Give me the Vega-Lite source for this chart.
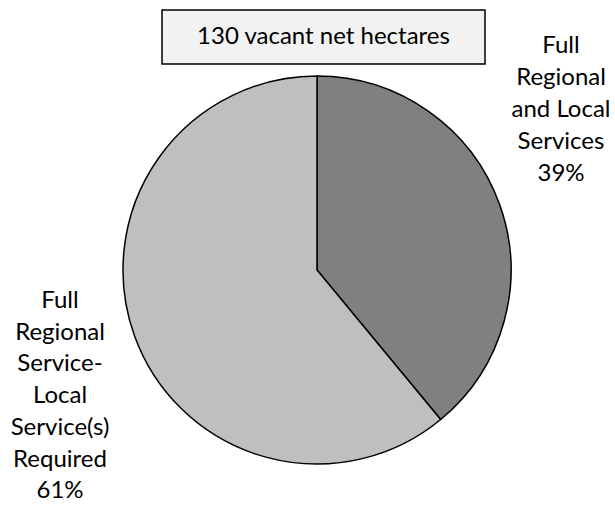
{
  "$schema": "https://vega.github.io/schema/vega-lite/v6.json",
  "autosize": {"type": "pad"},
  "padding": {"left": 10, "top": 9, "right": 0, "bottom": 0},
  "background": "white",
  "config": {"font": "Lato", "text": {"font": "Lato"}},
  "bounds": "flush",
  "spacing": 0,
  "vconcat": [
    {
      "width": 323,
      "height": 54,
      "view": {"fill": "#f2f2f2", "stroke": "#000000", "strokeWidth": 1.5},
      "data": {"values": [{"title": "130 vacant net hectares"}]},
      "mark": {"type": "text", "fontSize": 24, "color": "#000000", "baseline": "middle", "align": "center"},
      "encoding": {"text": {"field": "title", "type": "nominal"}}
    },
    {
      "width": 310,
      "height": 412,
      "view": {"stroke": null},
      "data": {
        "values": [
          {"category": "Full Regional and Local Services", "value": 39, "label": "Full\nRegional\nand Local\nServices\n39%"},
          {"category": "Full Regional Service-Local Service(s) Required", "value": 61, "label": "Full\nRegional\nService-\nLocal\nService(s)\nRequired\n61%"}
        ]
      },
      "layer": [
        {
          "mark": {"type": "arc", "radius": 194, "stroke": "#000000", "strokeWidth": 1.5},
          "encoding": {
            "theta": {"field": "value", "type": "quantitative", "stack": true},
            "order": {"field": "value", "type": "quantitative", "sort": "ascending"},
            "color": {
              "field": "category",
              "type": "nominal",
              "scale": {
                "domain": ["Full Regional and Local Services", "Full Regional Service-Local Service(s) Required"],
                "range": ["#808080", "#bfbfbf"]
              },
              "legend": null
            }
          }
        },
        {
          "transform": [{"filter": "datum.value == 39"}],
          "mark": {"type": "text", "fontSize": 24, "color": "#000000", "align": "center", "baseline": "middle", "lineBreak": "\n", "lineHeight": 32, "dx": 244, "dy": -224},
          "encoding": {"text": {"field": "label", "type": "nominal"}}
        },
        {
          "transform": [{"filter": "datum.value == 61"}],
          "mark": {"type": "text", "fontSize": 24, "color": "#000000", "align": "center", "baseline": "middle", "lineBreak": "\n", "lineHeight": 31.7, "dx": -257, "dy": 31},
          "encoding": {"text": {"field": "label", "type": "nominal"}}
        }
      ]
    }
  ]
}
